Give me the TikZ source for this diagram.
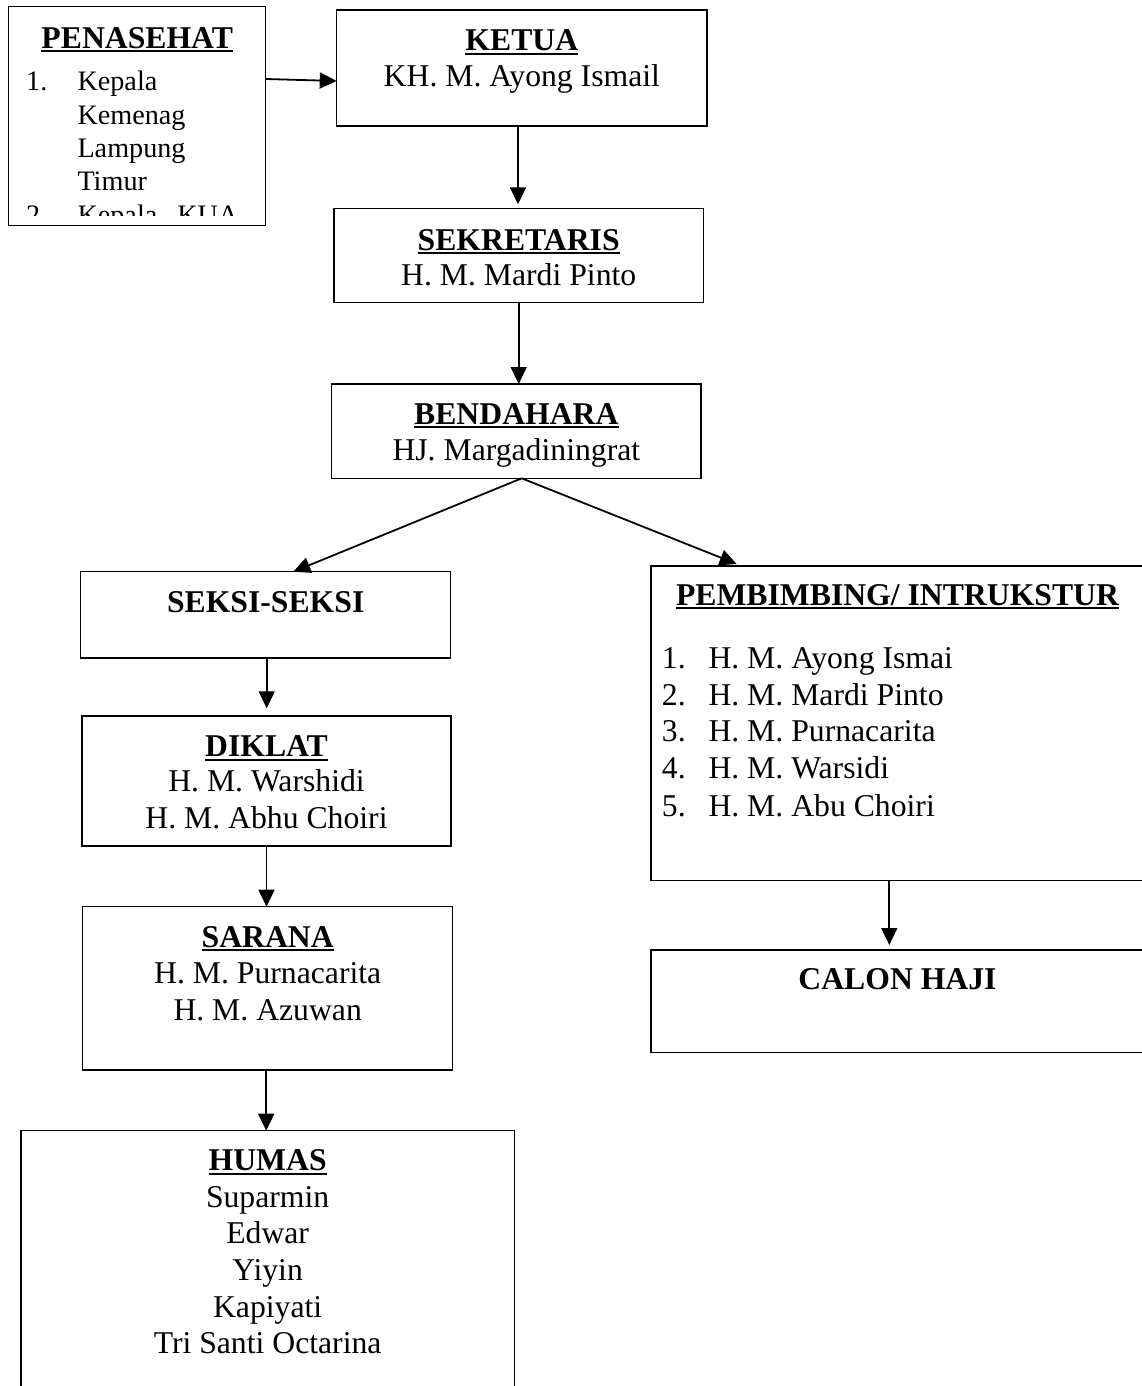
\documentclass[tikz,border=0pt]{standalone}
\usepackage{fontspec}
\setmainfont{Liberation Serif}
\usetikzlibrary{arrows.meta,calc}
\newcommand{\ulbf}[1]{\setbox0\hbox{\bfseries #1}\rlap{\vrule width \wd0 height -1.8pt depth 4.2pt}\box0}
\begin{document}
\begin{tikzpicture}[x=1pt,y=-1pt,
  box/.style={draw, line width=1.2pt, inner sep=0pt, outer sep=0pt, rectangle},
  txt/.style={anchor=base, inner sep=0pt, font=\fontsize{31.7}{36.6}\selectfont},
  small/.style={anchor=base west, inner sep=0pt, font=\fontsize{28.2}{33.4}\selectfont},
  arr/.style={line width=1.8pt, -{Triangle[length=17pt,width=16pt]}}]
\useasboundingbox (0,0) rectangle (1142,1386);
\fill[white] (0,0) rectangle (1142,1386);
\clip (0,0) rectangle (1142,1386);

% boxes
\node[box, minimum width=257.4pt, minimum height=219pt] (pen) at (137,116.2) {};
\node[box, minimum width=370.3pt, minimum height=116pt] (ketua) at (521.85,68) {};
\node[box, minimum width=369.3pt, minimum height=94pt] (sekr) at (518.7,255.3) {};
\node[box, minimum width=369.3pt, minimum height=94.3pt] (bend) at (516.35,431.15) {};
\node[box, minimum width=370pt, minimum height=86.3pt] (seksi) at (265.7,614.85) {};
\node[box, minimum width=369pt, minimum height=130pt] (diklat) at (266.5,781) {};
\node[box, minimum width=370pt, minimum height=163.3pt] (sarana) at (267.7,988.35) {};
\node[box, minimum width=493.3pt, minimum height=269.3pt] (humas) at (267.65,1265.35) {};
\node[box, minimum width=493pt, minimum height=314.7pt] (pemb) at (897.5,723.35) {};
\node[box, minimum width=493pt, minimum height=102.7pt] (calon) at (897.5,1001.35) {};

% PENASEHAT
\node[txt] (penT) at (137.2,48.3) {\ulbf{PENASEHAT}};
\begin{scope}
\clip (8.3,6.7) rectangle (265.7,215);
\node[small] (pn1) at (26,90.7) {1.};
\node[small] (pa1) at (77.3,90.7) {Kepala};
\node[small] (pa2) at (77.3,124.1) {Kemenag};
\node[small] (pa3) at (77.3,157.5) {Lampung};
\node[small] (pa4) at (77.3,190.9) {Timur};
\node[small] (pn2) at (26,224.3) {2.};
\node[small] (pa5) at (77.3,224.3) {Kepala\hspace{20pt}KUA};
\end{scope}

% KETUA etc
\node[txt] (ketT) at (521.85,51) {\ulbf{KETUA}};
\node[txt] (ketN) at (521.85,87) {KH. M. Ayong Ismail};
\node[txt] (sekT) at (518.7,250) {\ulbf{SEKRETARIS}};
\node[txt] (sekN) at (518.7,285) {H. M. Mardi Pinto};
\node[txt] (benT) at (516.35,424) {\ulbf{BENDAHARA}};
\node[txt] (benN) at (516.35,460) {HJ. Margadiningrat};
\node[txt] (sekiT) at (265.7,612.3) {\textbf{SEKSI-SEKSI}};
\node[txt] (dikT) at (266.5,756.7) {\ulbf{DIKLAT}};
\node[txt] (dikN1) at (266.5,791.7) {H. M. Warshidi};
\node[txt] (dikN2) at (266.5,828.3) {H. M. Abhu Choiri};
\node[txt] (sarT) at (267.7,947) {\ulbf{SARANA}};
\node[txt] (sarN1) at (267.7,983) {H. M. Purnacarita};
\node[txt] (sarN2) at (267.7,1020) {H. M. Azuwan};
\node[txt] (humT) at (267.65,1170.7) {\ulbf{HUMAS}};
\node[txt] (humN1) at (267.65,1207.3) {Suparmin};
\node[txt] (humN2) at (267.65,1243.9) {Edwar};
\node[txt] (humN3) at (267.65,1280.5) {Yiyin};
\node[txt] (humN4) at (267.65,1317.1) {Kapiyati};
\node[txt] (humN5) at (267.65,1353.7) {Tri Santi Octarina};

% PEMBIMBING
\node[txt] (pemT) at (897.5,605) {\ulbf{PEMBIMBING/ INTRUKSTUR}};
\node[txt, anchor=base west] (pm1) at (661.7,668.3) {1.};
\node[txt, anchor=base west] (pp1) at (708.3,668.3) {H. M. Ayong Ismai};
\node[txt, anchor=base west] (pm2) at (661.7,705) {2.};
\node[txt, anchor=base west] (pp2) at (708.3,705) {H. M. Mardi Pinto};
\node[txt, anchor=base west] (pm3) at (661.7,741.7) {3.};
\node[txt, anchor=base west] (pp3) at (708.3,741.7) {H. M. Purnacarita};
\node[txt, anchor=base west] (pm4) at (661.7,778.3) {4.};
\node[txt, anchor=base west] (pp4) at (708.3,778.3) {H. M. Warsidi};
\node[txt, anchor=base west] (pm5) at (661.7,816) {5.};
\node[txt, anchor=base west] (pp5) at (708.3,816) {H. M. Abu Choiri};
\node[txt] (calT) at (897.5,989) {\textbf{CALON HAJI}};

% connectors
\draw[arr] ($(pen.north east)+(0,72.3)$) -- ($(ketua.north west)+(0,71)$);
\coordinate (a1) at ([xshift=-3.85pt]ketua.south);
\draw[arr, shorten >=4pt] (a1) -- (a1 |- sekr.north);
\draw[arr] (sekr.south) -- (sekr.south |- bend.north);
\coordinate (br) at ([xshift=5.35pt]bend.south);
\coordinate (tipL) at ([xshift=27.6pt]seksi.north);
\coordinate (tipR) at ($(pemb.north west)+(85.7,-2)$);
\draw[arr] (br) -- (tipL);
\draw[arr] (br) -- (tipR);
\coordinate (a2) at ([xshift=1pt]seksi.south);
\draw[arr, shorten >=7.7pt] (a2) -- (a2 |- diklat.north);
\draw[arr] (diklat.south) -- (diklat.south |- sarana.north);
\coordinate (a3) at ([xshift=-1.5pt]sarana.south);
\draw[arr] (a3) -- (a3 |- humas.north);
\coordinate (a4) at ([xshift=-8.2pt]pemb.south);
\draw[arr, shorten >=5pt] (a4) -- (a4 |- calon.north);
\end{tikzpicture}
\end{document}
